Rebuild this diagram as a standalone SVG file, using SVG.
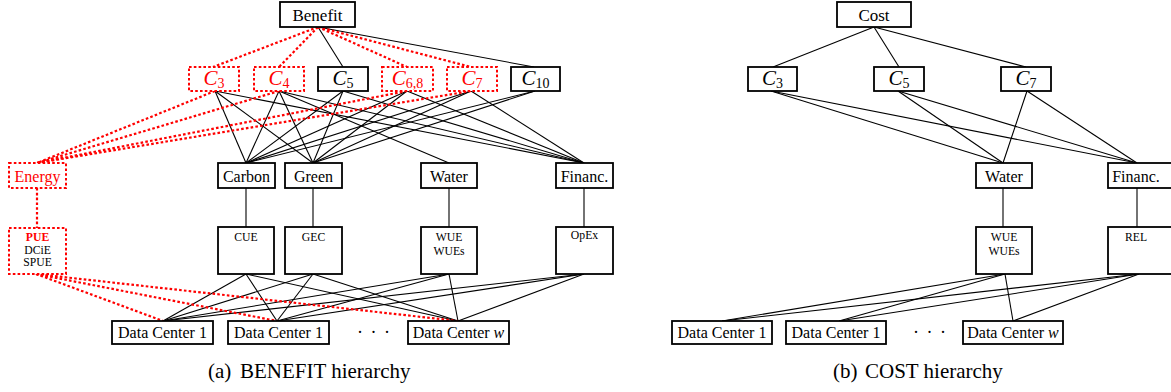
<svg xmlns="http://www.w3.org/2000/svg" width="1171" height="392" viewBox="0 0 1171 392">
<style>
  text { font-family: "Liberation Serif", "Times New Roman", serif; fill: #000; }
  .lbl { font-size: 16px; text-anchor: middle; }
  .top { font-size: 17px; text-anchor: middle; }
  .sm { font-size: 11.7px; text-anchor: middle; }
  .cap { font-size: 21px; }
  .cl { font-size: 21px; text-anchor: middle; }
  .sub { font-size: 14px; }
  .red { fill: #ff0000; }
  .box { fill: #fff; stroke: #000; stroke-width: 1.8; }
  .rbox { fill: #fff; stroke: #ff0000; stroke-width: 2; stroke-dasharray: 2.6 2.2; }
  .ln { stroke: #000; stroke-width: 1.1; fill: none; }
  .rl { stroke: #ff0000; stroke-width: 2.2; stroke-dasharray: 2.6 2.2; fill: none; }
  .it { font-style: italic; }
  .dots { font-size: 18px; letter-spacing: 1.5px; }
</style>
<rect width="1171" height="392" fill="#fff"/>

<g id="connectors">
  <line class="ln" x1="318" y1="27" x2="343" y2="67"/>
  <line class="ln" x1="318" y1="27" x2="534" y2="67"/>
  <line class="rl" x1="318" y1="27" x2="213" y2="67"/>
  <line class="rl" x1="318" y1="27" x2="279" y2="67"/>
  <line class="rl" x1="318" y1="27" x2="407" y2="67"/>
  <line class="rl" x1="318" y1="27" x2="471" y2="67"/>
  <line class="ln" x1="215" y1="91" x2="246" y2="163"/>
  <line class="ln" x1="215" y1="91" x2="313" y2="163"/>
  <line class="ln" x1="215" y1="91" x2="584" y2="163"/>
  <line class="ln" x1="279" y1="91" x2="246" y2="163"/>
  <line class="ln" x1="279" y1="91" x2="313" y2="163"/>
  <line class="ln" x1="279" y1="91" x2="449" y2="163"/>
  <line class="ln" x1="279" y1="91" x2="584" y2="163"/>
  <line class="ln" x1="343" y1="91" x2="246" y2="163"/>
  <line class="ln" x1="343" y1="91" x2="313" y2="163"/>
  <line class="ln" x1="343" y1="91" x2="584" y2="163"/>
  <line class="ln" x1="407" y1="91" x2="246" y2="163"/>
  <line class="ln" x1="407" y1="91" x2="313" y2="163"/>
  <line class="ln" x1="407" y1="91" x2="584" y2="163"/>
  <line class="ln" x1="471" y1="91" x2="246" y2="163"/>
  <line class="ln" x1="471" y1="91" x2="313" y2="163"/>
  <line class="ln" x1="471" y1="91" x2="584" y2="163"/>
  <line class="ln" x1="535" y1="91" x2="246" y2="163"/>
  <line class="ln" x1="535" y1="91" x2="313" y2="163"/>
  <line class="rl" x1="215" y1="91" x2="37" y2="163"/>
  <line class="rl" x1="279" y1="91" x2="37" y2="163"/>
  <line class="rl" x1="407" y1="91" x2="37" y2="163"/>
  <line class="rl" x1="471" y1="91" x2="37" y2="163"/>
  <line class="ln" x1="246" y1="188" x2="246" y2="227"/>
  <line class="ln" x1="313" y1="188" x2="313" y2="227"/>
  <line class="ln" x1="449" y1="188" x2="449" y2="227"/>
  <line class="ln" x1="584" y1="188" x2="584" y2="227"/>
  <line class="rl" x1="37" y1="188" x2="37" y2="228"/>
  <line class="ln" x1="246" y1="274" x2="163" y2="321"/>
  <line class="ln" x1="246" y1="274" x2="277" y2="321"/>
  <line class="ln" x1="246" y1="274" x2="458" y2="321"/>
  <line class="ln" x1="313" y1="274" x2="163" y2="321"/>
  <line class="ln" x1="313" y1="274" x2="277" y2="321"/>
  <line class="ln" x1="313" y1="274" x2="458" y2="321"/>
  <line class="ln" x1="449" y1="274" x2="163" y2="321"/>
  <line class="ln" x1="449" y1="274" x2="277" y2="321"/>
  <line class="ln" x1="449" y1="274" x2="458" y2="321"/>
  <line class="ln" x1="584" y1="274" x2="163" y2="321"/>
  <line class="ln" x1="584" y1="274" x2="277" y2="321"/>
  <line class="ln" x1="584" y1="274" x2="458" y2="321"/>
  <line class="rl" x1="36" y1="274" x2="163" y2="321"/>
  <line class="rl" x1="36" y1="274" x2="277" y2="321"/>
  <line class="rl" x1="36" y1="274" x2="458" y2="321"/>

  <line class="ln" x1="874" y1="27" x2="773" y2="67"/>
  <line class="ln" x1="874" y1="27" x2="899" y2="67"/>
  <line class="ln" x1="874" y1="27" x2="1026" y2="67"/>
  <line class="ln" x1="771" y1="91" x2="1003" y2="163"/>
  <line class="ln" x1="771" y1="91" x2="1137" y2="163"/>
  <line class="ln" x1="898" y1="91" x2="1003" y2="163"/>
  <line class="ln" x1="898" y1="91" x2="1137" y2="163"/>
  <line class="ln" x1="1027" y1="91" x2="1003" y2="163"/>
  <line class="ln" x1="1027" y1="91" x2="1137" y2="163"/>
  <line class="ln" x1="1003" y1="188" x2="1003" y2="227"/>
  <line class="ln" x1="1137" y1="188" x2="1137" y2="227"/>
  <line class="ln" x1="1005" y1="274" x2="722" y2="321"/>
  <line class="ln" x1="1005" y1="274" x2="839" y2="321"/>
  <line class="ln" x1="1005" y1="274" x2="1013" y2="321"/>
  <line class="ln" x1="1139" y1="274" x2="722" y2="321"/>
  <line class="ln" x1="1139" y1="274" x2="839" y2="321"/>
  <line class="ln" x1="1139" y1="274" x2="1013" y2="321"/>
</g>

<g id="benefit"><rect class="box" x="280" y="2" width="75" height="25"/><text class="top" x="317.5" y="20.5">Benefit</text></g>

<g id="b-c3"><rect class="rbox" x="189" y="67" width="50" height="24"/><text class="cl red" x="214" y="85"><tspan class="it">C</tspan><tspan class="sub" dy="3">3</tspan></text></g>
<g id="b-c4"><rect class="rbox" x="254" y="67" width="50" height="24"/><text class="cl red" x="279" y="85"><tspan class="it">C</tspan><tspan class="sub" dy="3">4</tspan></text></g>
<g id="b-c5"><rect class="box" x="318" y="67" width="50" height="24"/><text class="cl" x="343" y="85"><tspan class="it">C</tspan><tspan class="sub" dy="3">5</tspan></text></g>
<g id="b-c68"><rect class="rbox" x="382" y="67" width="51" height="24"/><text class="cl red" x="407.5" y="85"><tspan class="it">C</tspan><tspan class="sub" dy="3">6,8</tspan></text></g>
<g id="b-c7"><rect class="rbox" x="447" y="67" width="50" height="24"/><text class="cl red" x="472" y="85"><tspan class="it">C</tspan><tspan class="sub" dy="3">7</tspan></text></g>
<g id="b-c10"><rect class="box" x="511" y="67" width="49" height="24"/><text class="cl" x="535.5" y="85"><tspan class="it">C</tspan><tspan class="sub" dy="3">10</tspan></text></g>

<g id="b-energy"><rect class="rbox" x="9" y="163" width="57" height="25"/><text class="lbl red" x="37.5" y="181.5">Energy</text></g>
<g id="b-carbon"><rect class="box" x="218" y="163" width="57" height="25"/><text class="lbl" x="246.5" y="181.5">Carbon</text></g>
<g id="b-green"><rect class="box" x="285" y="163" width="57" height="25"/><text class="lbl" x="313.5" y="181.5">Green</text></g>
<g id="b-water"><rect class="box" x="421" y="163" width="56" height="25"/><text class="lbl" x="449" y="181.5">Water</text></g>
<g id="b-financ"><rect class="box" x="556" y="163" width="57" height="25"/><text class="lbl" x="584.5" y="181.5">Financ.</text></g>

<g id="b-pue"><rect class="rbox" x="9" y="228" width="57" height="46"/><text class="sm red" x="37.5" y="241" font-weight="bold">PUE</text><text class="sm" x="37.5" y="254">DCiE</text><text class="sm" x="37.5" y="266">SPUE</text></g>
<g id="b-cue"><rect class="box" x="218" y="227" width="56" height="47"/><text class="sm" x="246" y="241">CUE</text></g>
<g id="b-gec"><rect class="box" x="285" y="227" width="57" height="47"/><text class="sm" x="313.5" y="241">GEC</text></g>
<g id="b-wue"><rect class="box" x="421" y="227" width="56" height="47"/><text class="sm" x="449" y="241">WUE</text><text class="sm" x="449" y="254.5">WUEs</text></g>
<g id="b-opex"><rect class="box" x="556" y="227" width="57" height="47"/><text class="sm" x="584.5" y="239">OpEx</text></g>

<g id="b-dc1"><rect class="box" x="112" y="321" width="101" height="23"/><text class="lbl" x="162.5" y="338">Data Center 1</text></g>
<g id="b-dc1b"><rect class="box" x="228" y="321" width="101" height="23"/><text class="lbl" x="278.5" y="338">Data Center 1</text></g>
<text class="dots" x="357" y="338">· · ·</text>
<g id="b-dcw"><rect class="box" x="408" y="321" width="101" height="23"/><text class="lbl" x="458.5" y="338">Data Center <tspan class="it">w</tspan></text></g>

<text class="cap" x="208" y="378">(a)<tspan x="240">BENEFIT hierarchy</tspan></text>

<g id="cost"><rect class="box" x="837" y="2" width="74" height="25"/><text class="top" x="874" y="20.5">Cost</text></g>
<g id="c-c3"><rect class="box" x="748" y="67" width="49" height="24"/><text class="cl" x="772.5" y="85"><tspan class="it">C</tspan><tspan class="sub" dy="3">3</tspan></text></g>
<g id="c-c5"><rect class="box" x="874" y="67" width="50" height="24"/><text class="cl" x="899" y="85"><tspan class="it">C</tspan><tspan class="sub" dy="3">5</tspan></text></g>
<g id="c-c7"><rect class="box" x="1001" y="67" width="50" height="24"/><text class="cl" x="1026" y="85"><tspan class="it">C</tspan><tspan class="sub" dy="3">7</tspan></text></g>
<g id="c-water"><rect class="box" x="976" y="163" width="56" height="25"/><text class="lbl" x="1004" y="181.5">Water</text></g>
<g id="c-financ"><rect class="box" x="1108" y="163" width="66" height="25"/><text class="lbl" x="1136" y="181.5">Financ.</text></g>
<g id="c-wue"><rect class="box" x="976" y="227" width="56" height="47"/><text class="sm" x="1004" y="241">WUE</text><text class="sm" x="1004" y="254.5">WUEs</text></g>
<g id="c-rel"><rect class="box" x="1108" y="227" width="66" height="47"/><text class="sm" x="1136" y="241">REL</text></g>
<g id="c-dc1"><rect class="box" x="672" y="321" width="100" height="23"/><text class="lbl" x="722" y="338">Data Center 1</text></g>
<g id="c-dc1b"><rect class="box" x="786" y="321" width="100" height="23"/><text class="lbl" x="836" y="338">Data Center 1</text></g>
<text class="dots" x="913" y="338">· · ·</text>
<g id="c-dcw"><rect class="box" x="963" y="321" width="100" height="23"/><text class="lbl" x="1013" y="338">Data Center <tspan class="it">w</tspan></text></g>

<text class="cap" x="833" y="378">(b)<tspan x="865">COST hierarchy</tspan></text>
</svg>
